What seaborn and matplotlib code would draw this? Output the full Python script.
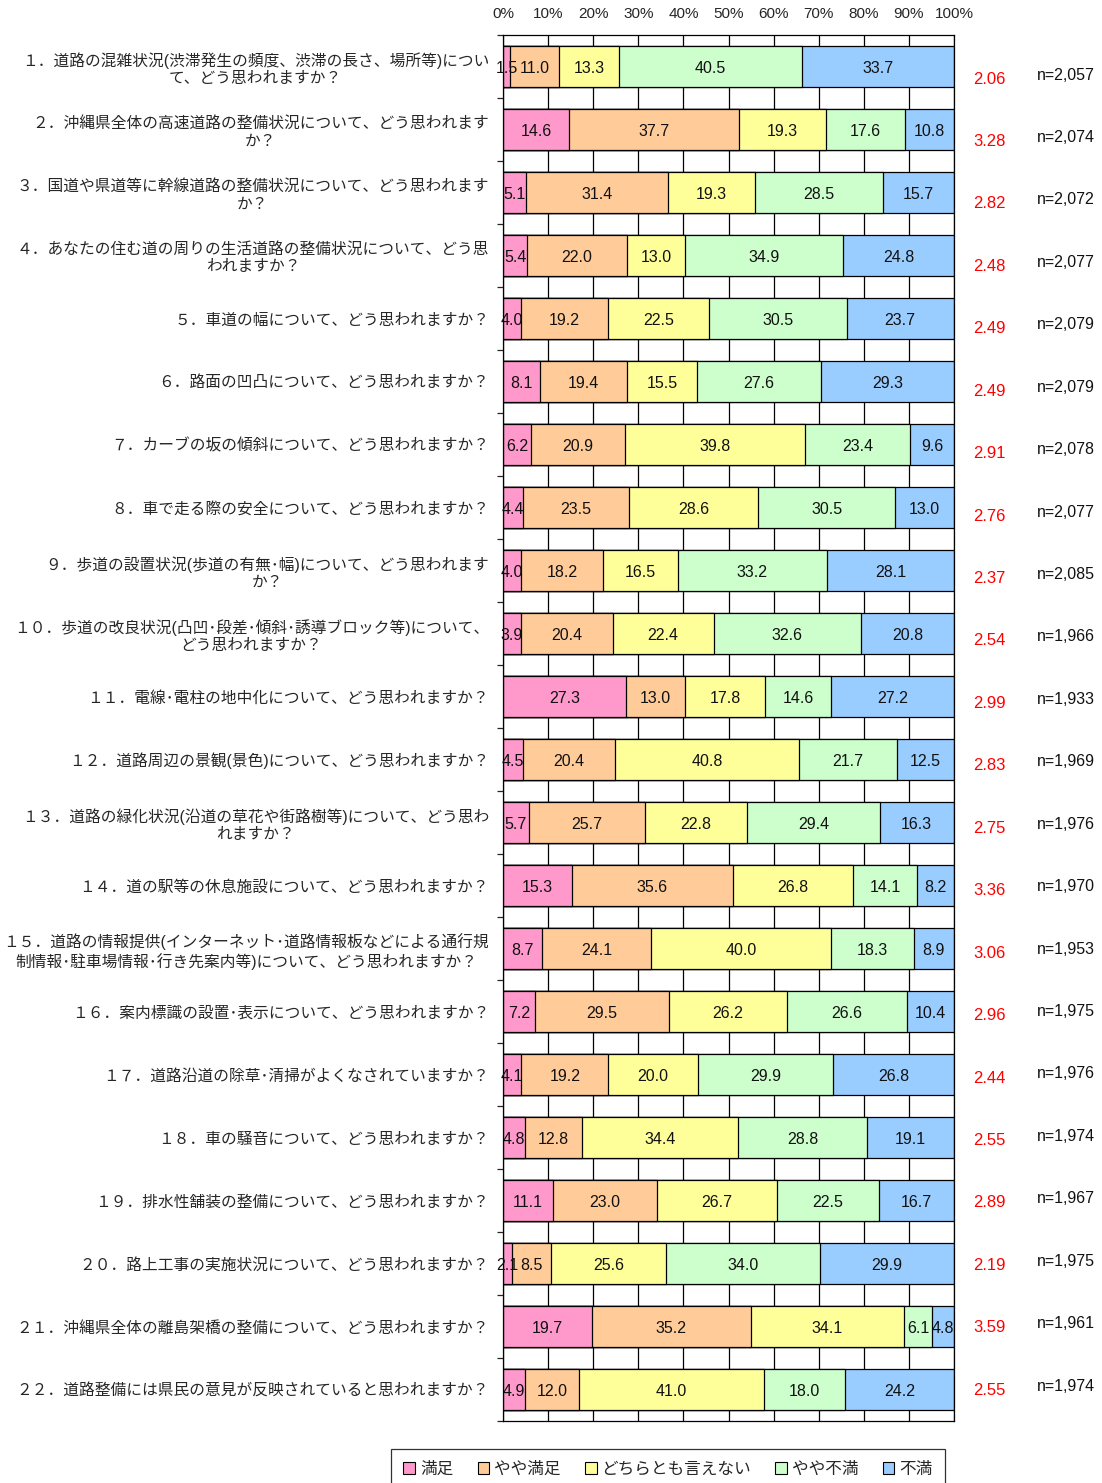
import numpy as np
import pandas as pd
import matplotlib
matplotlib.use("Agg")
import matplotlib.pyplot as plt
from matplotlib.patches import Patch
from matplotlib.transforms import blended_transform_factory
import seaborn as sns

# ---- survey results (percent of respondents) ----
questions = [
    "１．道路の混雑状況(渋滞発生の頻度、渋滞の長さ、場所等)につい\nて、どう思われますか？",
    "２．沖縄県全体の高速道路の整備状況について、どう思われます\nか？",
    "３．国道や県道等に幹線道路の整備状況について、どう思われます\nか？",
    "４．あなたの住む道の周りの生活道路の整備状況について、どう思\nわれますか？",
    "５．車道の幅について、どう思われますか？",
    "６．路面の凹凸について、どう思われますか？",
    "７．カーブの坂の傾斜について、どう思われますか？",
    "８．車で走る際の安全について、どう思われますか？",
    "９．歩道の設置状況(歩道の有無･幅)について、どう思われます\nか？",
    "１０．歩道の改良状況(凸凹･段差･傾斜･誘導ブロック等)について、\nどう思われますか？",
    "１１．電線･電柱の地中化について、どう思われますか？",
    "１２．道路周辺の景観(景色)について、どう思われますか？",
    "１３．道路の緑化状況(沿道の草花や街路樹等)について、どう思わ\nれますか？",
    "１４．道の駅等の休息施設について、どう思われますか？",
    "１５．道路の情報提供(インターネット･道路情報板などによる通行規\n制情報･駐車場情報･行き先案内等)について、どう思われますか？",
    "１６．案内標識の設置･表示について、どう思われますか？",
    "１７．道路沿道の除草･清掃がよくなされていますか？",
    "１８．車の騒音について、どう思われますか？",
    "１９．排水性舗装の整備について、どう思われますか？",
    "２０．路上工事の実施状況について、どう思われますか？",
    "２１．沖縄県全体の離島架橋の整備について、どう思われますか？",
    "２２．道路整備には県民の意見が反映されていると思われますか？",
]

categories = ["満足", "やや満足", "どちらとも言えない", "やや不満", "不満"]

satisfied = [1.5, 14.6, 5.1, 5.4, 4.0, 8.1, 6.2, 4.4, 4.0, 3.9, 27.3,
             4.5, 5.7, 15.3, 8.7, 7.2, 4.1, 4.8, 11.1, 2.1, 19.7, 4.9]
somewhat_satisfied = [11.0, 37.7, 31.4, 22.0, 19.2, 19.4, 20.9, 23.5, 18.2, 20.4, 13.0,
                      20.4, 25.7, 35.6, 24.1, 29.5, 19.2, 12.8, 23.0, 8.5, 35.2, 12.0]
neutral = [13.3, 19.3, 19.3, 13.0, 22.5, 15.5, 39.8, 28.6, 16.5, 22.4, 17.8,
           40.8, 22.8, 26.8, 40.0, 26.2, 20.0, 34.4, 26.7, 25.6, 34.1, 41.0]
somewhat_dissatisfied = [40.5, 17.6, 28.5, 34.9, 30.5, 27.6, 23.4, 30.5, 33.2, 32.6, 14.6,
                         21.7, 29.4, 14.1, 18.3, 26.6, 29.9, 28.8, 22.5, 34.0, 6.1, 18.0]
dissatisfied = [33.7, 10.8, 15.7, 24.8, 23.7, 29.3, 9.6, 13.0, 28.1, 20.8, 27.2,
                12.5, 16.3, 8.2, 8.9, 10.4, 26.8, 19.1, 16.7, 29.9, 4.8, 24.2]

mean_scores = ["2.06", "3.28", "2.82", "2.48", "2.49", "2.49", "2.91", "2.76", "2.37", "2.54", "2.99",
               "2.83", "2.75", "3.36", "3.06", "2.96", "2.44", "2.55", "2.89", "2.19", "3.59", "2.55"]
sample_sizes = ["2,057", "2,074", "2,072", "2,077", "2,079", "2,079", "2,078", "2,077", "2,085", "1,966", "1,933",
                "1,969", "1,976", "1,970", "1,953", "1,975", "1,976", "1,974", "1,967", "1,975", "1,961", "1,974"]

x_ticks = [0, 10, 20, 30, 40, 50, 60, 70, 80, 90, 100]
x_tick_labels = [f"{t}%" for t in x_ticks]

colors = ["#FF99CC", "#FFCC99", "#FFFF99", "#CCFFCC", "#99CCFF"]

# ---- styling ----
sns.set_theme(style="white")
plt.rcParams["font.family"] = ["Liberation Sans", "Noto Sans CJK JP"]
plt.rcParams["axes.edgecolor"] = "black"

series = [satisfied, somewhat_satisfied, neutral, somewhat_dissatisfied, dissatisfied]
values = np.array(series).T  # rows = questions
cum = np.cumsum(values, axis=1)
row_ids = [f"q{i + 1}" for i in range(len(questions))]

fig = plt.figure(figsize=(11.02, 14.83), dpi=100)
ax = fig.add_axes([503 / 1102, 1 - 1421 / 1483, 451 / 1102, 1386 / 1483])

# stacked bars: draw cumulative totals from widest to narrowest
for k in reversed(range(len(categories))):
    df = pd.DataFrame({"row": row_ids, "cum": cum[:, k]})
    sns.barplot(data=df, x="cum", y="row", orient="h", color=colors[k],
                edgecolor="black", linewidth=0.9, width=0.65, saturation=1,
                ax=ax, zorder=2)

# segment value labels
for i in range(len(questions)):
    for k in range(len(categories)):
        v = values[i, k]
        center = cum[i, k] - v / 2
        ax.text(center, i + 0.03, f"{v:.1f}", ha="center", va="center",
                fontsize=11.5, color="#111111", zorder=4)

ax.set_xlim(0, 100)
ax.set_ylim(len(questions) - 0.5, -0.5)
ax.set_xlabel("")
ax.set_ylabel("")

# x axis along the top
ax.xaxis.tick_top()
ax.set_xticks(x_ticks)
ax.set_xticklabels(x_tick_labels, fontsize=11)
ax.tick_params(axis="x", length=0, pad=10)
ax.grid(axis="x", color="black", linewidth=0.9, zorder=0)
ax.set_axisbelow(True)

# question labels on the left, boundary ticks between rows
ax.set_yticks(range(len(questions)))
ax.set_yticklabels(questions, fontsize=11.3)
for lab in ax.get_yticklabels():
    lab.set_multialignment("center")
ax.set_yticks(np.arange(-0.5, len(questions), 1.0), minor=True)
ax.tick_params(axis="y", which="major", length=0, pad=10)
ax.tick_params(axis="y", which="minor", length=4, width=0.9, direction="out", left=True)

for s in ax.spines.values():
    s.set_visible(True)
    s.set_color("black")
    s.set_linewidth(0.9)

# mean score and sample size columns on the right
trans = blended_transform_factory(ax.transAxes, ax.transData)
for i in range(len(questions)):
    y_mean = 0.20 + 0.991 * i
    y_n = 0.135 + 0.991 * i
    ax.text((989 - 503) / 451, y_mean, mean_scores[i], transform=trans,
            ha="center", va="center", color="#FF0000", fontsize=12, clip_on=False)
    ax.text((1066 - 503) / 451, y_n, f"n={sample_sizes[i]}", transform=trans,
            ha="center", va="center", color="#111111", fontsize=11.5, clip_on=False)

# legend
handles = [Patch(facecolor=c, edgecolor="black", linewidth=0.8) for c in colors]
leg = fig.legend(handles, categories, loc="upper center",
                 bbox_to_anchor=(668 / 1102, 1 - 1449 / 1483), ncol=5,
                 frameon=True, fancybox=False, edgecolor="black",
                 fontsize=12, handlelength=0.7, handleheight=0.7,
                 handletextpad=0.3, columnspacing=1.45, borderpad=0.75,
                 borderaxespad=0)
leg.get_frame().set_linewidth(0.9)

fig.savefig("out.png", dpi=100, facecolor="white")
